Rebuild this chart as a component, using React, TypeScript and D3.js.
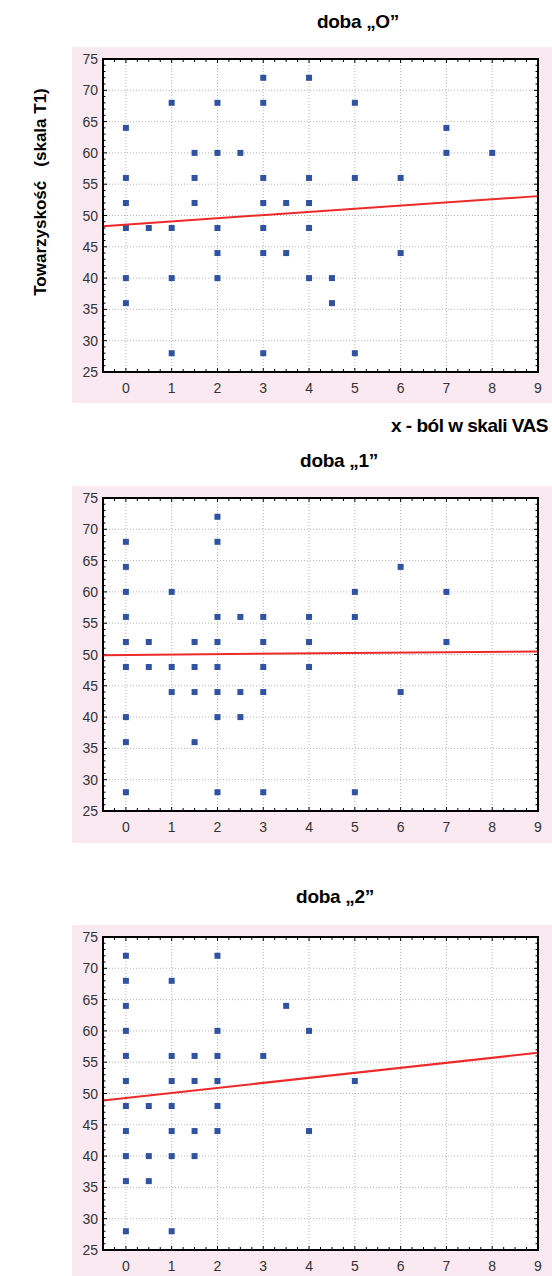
import * as d3 from "d3";

// values
const titles = ["doba „O”", "doba „1”", "doba „2”"];

const day0X = [0, 0, 0, 0, 0, 0, 0.5, 1, 1, 1, 1, 1.5, 1.5, 1.5, 2, 2, 2, 2, 2, 2.5, 3, 3, 3, 3, 3, 3, 3, 3.5, 3.5, 4, 4, 4, 4, 4, 4.5, 4.5, 5, 5, 5, 6, 6, 7, 7, 8];
const day0Y = [64, 56, 52, 48, 40, 36, 48, 68, 48, 40, 28, 60, 56, 52, 68, 60, 48, 44, 40, 60, 72, 68, 56, 52, 48, 44, 28, 52, 44, 72, 56, 52, 48, 40, 40, 36, 68, 56, 28, 56, 44, 64, 60, 60];

const day1X = [0, 0, 0, 0, 0, 0, 0, 0, 0, 0.5, 0.5, 1, 1, 1, 1.5, 1.5, 1.5, 1.5, 2, 2, 2, 2, 2, 2, 2, 2, 2.5, 2.5, 2.5, 3, 3, 3, 3, 3, 4, 4, 4, 5, 5, 5, 6, 6, 7, 7];
const day1Y = [68, 64, 60, 56, 52, 48, 40, 36, 28, 52, 48, 60, 48, 44, 52, 48, 44, 36, 72, 68, 56, 52, 48, 44, 40, 28, 56, 44, 40, 56, 52, 48, 44, 28, 56, 52, 48, 60, 56, 28, 64, 44, 60, 52];

const day2X = [0, 0, 0, 0, 0, 0, 0, 0, 0, 0, 0, 0.5, 0.5, 0.5, 1, 1, 1, 1, 1, 1, 1, 1.5, 1.5, 1.5, 1.5, 2, 2, 2, 2, 2, 2, 3, 3.5, 4, 4, 5];
const day2Y = [72, 68, 64, 60, 56, 52, 48, 44, 40, 36, 28, 48, 40, 36, 68, 56, 52, 48, 44, 40, 28, 56, 52, 44, 40, 72, 60, 56, 52, 48, 44, 56, 64, 60, 44, 52];

// fitted regression lines: y = intercept + slope * x
const intercepts = [48.55, 49.93, 49.3];
const slopes = [0.505, 0.063, 0.8];

const xTicks = [0, 1, 2, 3, 4, 5, 6, 7, 8, 9];
const yTicks = [25, 30, 35, 40, 45, 50, 55, 60, 65, 70, 75];

const yLabel = "Towarzyskość   (skala T1)";
const xLabel = "x - ból w skali VAS";

const panels = [
  { xs: day0X, ys: day0Y, top: 59, titleY: 28, titleX: 358, bgBottom: 403 },
  { xs: day1X, ys: day1Y, top: 498, titleY: 467, titleX: 339, bgBottom: 843 },
  { xs: day2X, ys: day2Y, top: 937, titleY: 903, titleX: 335, bgBottom: 1290 },
];

const font = "'Liberation Sans', Arial, sans-serif";
const left = 103;
const right = 538;
const plotH = 313;

function Panel({ idx }: { idx: number }) {
  const p = panels[idx];
  const x = d3.scaleLinear().domain([-0.5, 9]).range([left, right]);
  const y = d3.scaleLinear().domain([25, 75]).range([p.top + plotH, p.top]);
  const bottom = p.top + plotH;

  const line = d3
    .line<number>()
    .x((d) => x(d))
    .y((d) => y(intercepts[idx] + slopes[idx] * d));

  const minorX = d3.range(-0.5, 9.001, 0.25);
  const minorY = d3.range(25, 75.001, 1);

  return (
    <g>
      <rect x={72} y={p.top - 12} width={552 - 72} height={p.bgBottom - (p.top - 12)} fill="#fbe9f1" />
      <rect x={left} y={p.top} width={right - left} height={plotH} fill="#fff" />
      {/* grid */}
      {xTicks.map((t) => (
        <line key={"gx" + t} x1={x(t)} x2={x(t)} y1={p.top} y2={bottom} stroke="#b5b5b5" strokeDasharray="1,2" />
      ))}
      {yTicks.map((t) => (
        <line key={"gy" + t} x1={left} x2={right} y1={y(t)} y2={y(t)} stroke="#b5b5b5" strokeDasharray="1,2" />
      ))}
      {/* minor ticks */}
      {minorX.map((t, i) => (
        <g key={"mx" + i}>
          <line x1={x(t)} x2={x(t)} y1={p.top} y2={p.top + (t % 1 === 0 ? 4 : 3)} stroke="#000" />
          <line x1={x(t)} x2={x(t)} y1={bottom} y2={bottom - (t % 1 === 0 ? 4 : 3)} stroke="#000" />
        </g>
      ))}
      {minorY.map((t) => (
        <g key={"my" + t}>
          <line x1={left} x2={left + (t % 5 === 0 ? 4 : 2.5)} y1={y(t)} y2={y(t)} stroke="#000" />
          <line x1={right} x2={right - (t % 5 === 0 ? 4 : 2.5)} y1={y(t)} y2={y(t)} stroke="#000" />
        </g>
      ))}
      {/* points */}
      {p.xs.map((xv, i) => (
        <rect key={"pt" + i} x={x(xv) - 3} y={y(p.ys[i]) - 3} width={6} height={6} fill="#2f52a3" />
      ))}
      {/* regression line */}
      <path d={line([-0.5, 9]) ?? ""} fill="none" stroke="#ec2a2a" strokeWidth={2} />
      <rect x={left} y={p.top} width={right - left} height={plotH} fill="none" stroke="#000" strokeWidth={2} />
      {/* tick labels */}
      {yTicks.map((t) => (
        <text key={"ly" + t} x={left - 5} y={y(t)} dy="0.36em" textAnchor="end" fontSize={14} fill="#333" fontFamily={font}>
          {t}
        </text>
      ))}
      {xTicks.map((t) => (
        <text key={"lx" + t} x={x(t)} y={bottom + 21} textAnchor="middle" fontSize={14} fill="#333" fontFamily={font}>
          {t}
        </text>
      ))}
      <text x={p.titleX} y={p.titleY} textAnchor="middle" fontSize={19} fontWeight="bold" fontFamily={font} letterSpacing={-0.3}>
        {titles[idx]}
      </text>
    </g>
  );
}

export default function App() {
  return (
    <svg width={552} height={1276} style={{ position: "absolute", left: 0, top: 0, background: "#fff" }}>
      {panels.map((_, i) => (
        <Panel key={i} idx={i} />
      ))}
      <text
        transform="translate(46,192) rotate(-90)"
        textAnchor="middle"
        fontSize={17}
        fontWeight="bold"
        fontFamily={font}
        style={{ whiteSpace: "pre" }}
      >
        {yLabel}
      </text>
      <text x={548} y={432} textAnchor="end" fontSize={19} fontWeight="bold" fontFamily={font} letterSpacing={-0.5}>
        {xLabel}
      </text>
    </svg>
  );
}
